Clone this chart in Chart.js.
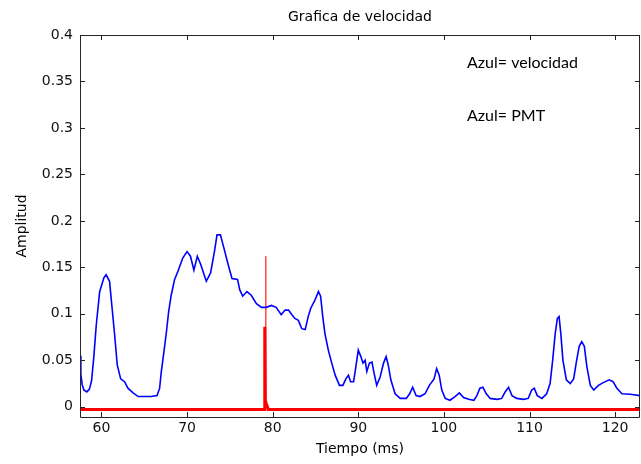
<!DOCTYPE html>
<html><head><meta charset="utf-8">
<script src="https://cdn.jsdelivr.net/npm/chart.js@4.4.0/dist/chart.umd.min.js"></script>
<style>html,body{margin:0;padding:0;background:#fff}#wrap{width:641px;height:464px}</style>
</head><body><div id="wrap"><canvas id="c" width="641" height="464"></canvas></div>
<script>
const chartTitle = 'Grafica de velocidad';
const xTitle = 'Tiempo (ms)';
const yTitle = 'Amplitud';
const notes = ['Azul= velocidad', 'Azul= PMT'];
const xTicks = [60, 70, 80, 90, 100, 110, 120];
const yTicks = [0, 0.05, 0.1, 0.15, 0.2, 0.25, 0.3, 0.35, 0.4];
const yTickLabels = ['0', '0.05', '0.1', '0.15', '0.2', '0.25', '0.3', '0.35', '0.4'];

const velTime = [57.5,57.6,57.75,57.95,58.3,58.6,58.85,59.1,59.4,59.8,60.3,60.55,60.95,61.25,61.55,61.85,62.25,62.7,63.1,63.7,64.3,65.0,65.8,66.5,66.8,67.0,67.3,67.6,67.85,68.15,68.55,68.95,69.5,70.0,70.4,70.8,71.2,71.6,72.25,72.75,73.2,73.5,73.9,74.3,74.8,75.25,75.9,76.15,76.5,77.0,77.5,78.1,78.7,79.25,79.85,80.4,81.0,81.45,81.85,82.25,82.6,83.0,83.4,83.8,84.15,84.45,84.95,85.35,85.6,85.85,86.1,86.5,86.9,87.3,87.8,88.2,88.55,88.85,89.1,89.45,89.65,90.0,90.3,90.55,90.8,91.0,91.3,91.6,91.85,92.15,92.55,92.95,93.25,93.5,93.8,94.3,94.9,95.6,96.0,96.35,96.75,97.2,97.8,98.3,98.85,99.15,99.45,99.75,100.15,100.7,101.3,101.8,102.3,102.9,103.5,103.85,104.2,104.55,104.95,105.4,106.2,106.75,107.15,107.55,107.95,108.5,109.3,109.85,110.25,110.55,110.9,111.45,112.0,112.4,112.7,113.0,113.25,113.45,113.65,113.9,114.3,114.75,115.15,115.5,115.8,116.1,116.4,116.7,117.1,117.5,118.05,118.6,119.3,119.75,120.2,120.8,121.75,122.9];
const velAmp = [0.055,0.035,0.024,0.018,0.016,0.019,0.028,0.052,0.088,0.124,0.139,0.142,0.135,0.106,0.077,0.045,0.030,0.027,0.020,0.015,0.011,0.011,0.011,0.012,0.020,0.038,0.059,0.081,0.102,0.120,0.137,0.146,0.160,0.167,0.162,0.147,0.162,0.153,0.135,0.144,0.167,0.185,0.185,0.171,0.153,0.138,0.137,0.126,0.119,0.124,0.120,0.111,0.107,0.107,0.109,0.107,0.099,0.104,0.104,0.099,0.095,0.093,0.084,0.083,0.097,0.106,0.115,0.124,0.119,0.097,0.079,0.061,0.047,0.034,0.023,0.023,0.030,0.034,0.027,0.027,0.039,0.061,0.054,0.047,0.050,0.038,0.047,0.048,0.036,0.023,0.032,0.047,0.054,0.045,0.029,0.014,0.009,0.009,0.014,0.021,0.012,0.011,0.014,0.023,0.030,0.041,0.034,0.018,0.009,0.007,0.011,0.015,0.010,0.008,0.007,0.012,0.020,0.021,0.014,0.009,0.008,0.009,0.016,0.021,0.012,0.009,0.008,0.009,0.018,0.020,0.012,0.009,0.014,0.025,0.050,0.079,0.095,0.097,0.079,0.050,0.029,0.025,0.030,0.050,0.065,0.070,0.065,0.043,0.023,0.018,0.023,0.026,0.029,0.027,0.020,0.014,0.0135,0.012];

const pmtTime = [57.5, 79.0, 79.08, 79.14, 79.22, 79.35, 79.5, 122.9];
const pmtAmp = [-0.003, -0.003, 0.086, 0.006, 0.004, 0.001, -0.003, -0.003];
const pmtPeakTime = [79.17, 79.19, 79.21];
const pmtPeakAmp = [0.0, 0.162, 0.0];

const toPts = (xs, ys) => xs.map((x, i) => ({x: x, y: ys[i]}));

const frame = {
  id: 'frame',
  afterDraw(chart) {
    const {ctx, chartArea: a, scales: {x, y}} = chart;
    ctx.save();
    ctx.strokeStyle = '#262626';
    ctx.lineWidth = 1;
    ctx.beginPath();
    ctx.rect(Math.round(a.left) + 0.5, Math.round(a.top) + 0.5, Math.round(a.right - a.left) - 1, Math.round(a.bottom - a.top));
    yTicks.forEach(v => {
      const py = Math.round(y.getPixelForValue(v)) + 0.5;
      ctx.moveTo(a.left, py); ctx.lineTo(a.left + 5, py);
      ctx.moveTo(a.right, py); ctx.lineTo(a.right - 5, py);
    });
    xTicks.forEach(v => {
      const px = Math.round(x.getPixelForValue(v)) + 0.5;
      ctx.moveTo(px, a.bottom); ctx.lineTo(px, a.bottom - 5);
      ctx.moveTo(px, a.top); ctx.lineTo(px, a.top + 5);
    });
    ctx.stroke();
    ctx.fillStyle = '#000';
    ctx.font = '16px Lato';
    ctx.textBaseline = 'middle';
    ctx.textAlign = 'left';
    ctx.fillText(notes[0], x.getPixelForValue(102.7), y.getPixelForValue(0.37));
    ctx.fillText(notes[1], x.getPixelForValue(102.7), y.getPixelForValue(0.313));
    ctx.restore();
  }
};

new Chart(document.getElementById('c'), {
  type: 'line',
  data: {
    datasets: [
      {label: 'velocidad', data: toPts(velTime, velAmp), borderColor: '#0000ff', borderWidth: 1.6, pointRadius: 0, tension: 0},
      {label: 'PMT', data: toPts(pmtTime, pmtAmp), borderColor: '#ff0000', borderWidth: 3, pointRadius: 0, tension: 0},
      {label: 'PMT pico', data: toPts(pmtPeakTime, pmtPeakAmp), borderColor: 'rgba(255,40,40,0.85)', borderWidth: 1, pointRadius: 0, tension: 0}
    ]
  },
  options: {
    responsive: false,
    animation: false,
    layout: {padding: {left: 0, right: 1, top: 0, bottom: 0}},
    plugins: {
      legend: {display: false},
      tooltip: {enabled: false},
      title: {display: true, text: chartTitle, fullSize: false, color: '#000',
        font: {family: 'DejaVu Sans', size: 14, weight: 'normal'}, padding: {top: 9, bottom: 9.2}}
    },
    scales: {
      x: {
        type: 'linear', min: 57.5, max: 122.9,
        afterFit: s => { s.height = 47; },
        afterBuildTicks: s => { s.ticks = xTicks.map(v => ({value: v})); },
        grid: {display: false, drawTicks: false},
        border: {display: false},
        ticks: {color: '#111', padding: 3, maxRotation: 0, font: {family: 'DejaVu Sans', size: 14}, callback: v => String(v)},
        title: {display: true, text: xTitle, color: '#000', font: {family: 'DejaVu Sans', size: 14}, padding: {top: 0, bottom: 6}}
      },
      y: {
        type: 'linear', min: -0.011, max: 0.4,
        afterFit: s => { s.width = 80; },
        afterBuildTicks: s => { s.ticks = yTicks.map(v => ({value: v})); },
        grid: {display: false, drawTicks: false},
        border: {display: false},
        ticks: {color: '#111', padding: 7, font: {family: 'DejaVu Sans', size: 14}, callback: (v, i) => yTickLabels[i]},
        title: {display: true, text: yTitle, color: '#000', font: {family: 'DejaVu Sans', size: 14}, padding: {top: 14, bottom: 0}}
      }
    }
  },
  plugins: [frame]
});
</script>
</body></html>
